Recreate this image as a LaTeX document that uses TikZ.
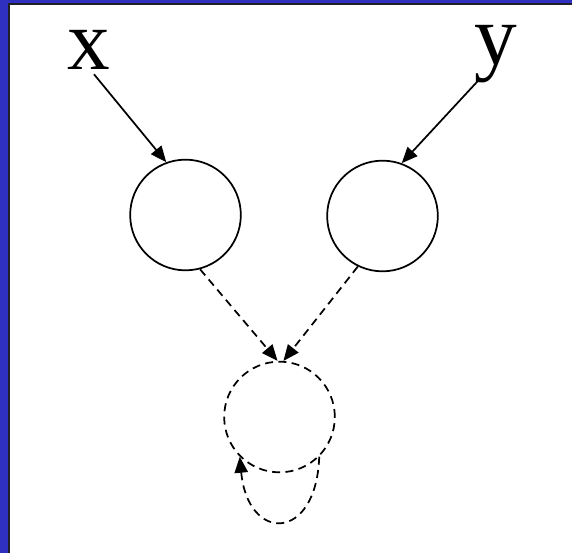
\documentclass[tikz,border=0pt]{standalone}
\usepackage{fontspec}
\setmainfont{Liberation Serif}
\usepackage{xcolor}
\usetikzlibrary{arrows.meta}
\definecolor{fBlue}{HTML}{3030C0}
\definecolor{fEdge}{HTML}{202028}
\tikzset{
  unit/.style={circle, draw, line width=1.3pt, minimum size=83pt, inner sep=0pt},
  hidunit/.style={unit, dash pattern=on 6pt off 4pt},
  varlabel/.style={inner sep=0pt, anchor=base, font=\fontsize{64}{70}\selectfont},
  feed/.style={-{Triangle[length=12pt, width=10pt]}, line width=1.3pt},
  dfeed/.style={feed, dash pattern=on 6pt off 4pt},
}
\begin{document}
\begin{tikzpicture}[x=0.75pt, y=0.75pt]
  % slide frame
  \fill[white] (0,0) rectangle (572,553);
  \fill[fBlue] (0,0) rectangle (8,553);
  \fill[fBlue] (0,549.5) rectangle (572,553);
  \fill[fEdge] (8,0) rectangle (10,549.5);
  \fill[fEdge] (8,547.5) rectangle (572,549.5);
  \useasboundingbox (0,0) rectangle (572,553);

  \node[varlabel] (lx) at (89,483) {x};
  \node[varlabel] (ly) at (496,488) {y};
  \node[unit] (c1) at (185.5,338) {};
  \node[unit] (c2) at (382.5,337) {};
  \node[hidunit] (c3) at (279.5,136) {};

  \draw[feed] ([shift={(5,-4)}]lx.south) -- (c1.110);
  \draw[feed] ([shift={(-16,5)}]ly.south) -- (c2.70);
  \draw[dfeed] (c1.-75) -- (c3.92);
  \draw[dfeed] (c2.-116) -- (c3.86);
  \draw[dfeed] (c3.-45) .. controls +(-3,-86) and +(8,-86) .. (c3.-135);
\end{tikzpicture}
\end{document}
